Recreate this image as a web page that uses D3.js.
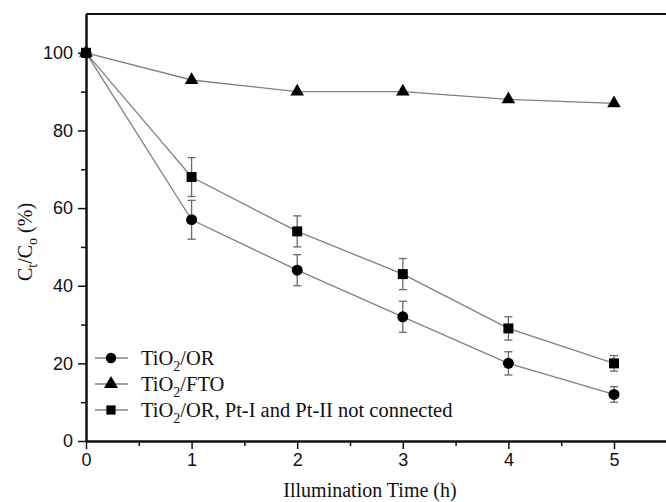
<!DOCTYPE html>
<html>
<head>
<meta charset="utf-8">
<script src="https://cdn.jsdelivr.net/npm/d3@7"></script>
<style>
  body { margin: 0; background: #fff; }
  svg { display: block; }
  .tick text { font-family: "Liberation Sans", Arial, sans-serif; font-size: 18px; fill: #111; }
  .serif { font-family: "Liberation Serif", "Times New Roman", serif; fill: #111; }
</style>
</head>
<body>
<script>
    var width = 666;
    var height = 502;

    // data
    var times = [0, 1, 2, 3, 4, 5];
    var orVals = [100, 57, 44, 32, 20, 12];
    var orErr = [0, 5, 4, 4, 3, 2];
    var ftoVals = [100, 93, 90, 90, 88, 87];
    var ncVals = [100, 68, 54, 43, 29, 20];
    var ncErr = [0, 5, 4, 4, 3, 2];

    var xTicks = [0, 1, 2, 3, 4, 5];
    var xMinor = [0.5, 1.5, 2.5, 3.5, 4.5];
    var yTicks = [0, 20, 40, 60, 80, 100];
    var yMinor = [10, 30, 50, 70, 90];

    var svg = d3.select("body")
        .append("svg")
        .attr("width", width)
        .attr("height", height);

    var x = d3.scaleLinear().domain([0, 5.5]).range([86, 86 + 5.5 * 105.6]);
    var y = d3.scaleLinear().domain([0, 110]).range([441, 14]);

    //top border (right side falls off the picture)
    svg.append("line")
        .attr("x1", x(0)).attr("x2", width)
        .attr("y1", y(110)).attr("y2", y(110))
        .attr("stroke", "#111").attr("stroke-width", 2);

    //axes
    svg.append("g").attr("transform", "translate(0," + y(0) + ")")
        .call(d3.axisBottom(x).tickValues(xTicks).tickFormat(d3.format("d")).tickSize(8).tickSizeOuter(0).tickPadding(4));
    svg.append("g").attr("transform", "translate(0," + y(0) + ")")
        .call(d3.axisBottom(x).tickValues(xMinor).tickFormat("").tickSize(5).tickSizeOuter(0));

    svg.append("g").attr("transform", "translate(" + x(0) + ",0)")
        .call(d3.axisLeft(y).tickValues(yTicks).tickSize(8).tickSizeOuter(0).tickPadding(5));
    svg.append("g").attr("transform", "translate(" + x(0) + ",0)")
        .call(d3.axisLeft(y).tickValues(yMinor).tickFormat("").tickSize(5).tickSizeOuter(0));

    svg.selectAll(".domain").attr("stroke", "#111").attr("stroke-width", 2);
    svg.selectAll(".tick line").attr("stroke", "#111").attr("stroke-width", 1.5);

    var series = [
        { name: "or", vals: orVals, err: orErr, sym: d3.symbolCircle, size: 95 },
        { name: "fto", vals: ftoVals, err: null, sym: d3.symbolTriangle, size: 80 },
        { name: "nc", vals: ncVals, err: ncErr, sym: d3.symbolSquare, size: 100 }
    ];

    var line = d3.line()
        .x(function(d, i) { return x(times[i]); })
        .y(function(d) { return y(d); });

    var plot = svg.append("g");

    series.forEach(function(s) {
        plot.append("path")
            .datum(s.vals)
            .attr("d", line)
            .attr("fill", "none")
            .attr("stroke", "#808080")
            .attr("stroke-width", 1.3);

        if (s.err) {
            var eb = plot.append("g").selectAll("g")
                .data(s.vals.map(function(v, i) { return { t: times[i], v: v, e: s.err[i] }; })
                    .filter(function(d) { return d.e > 0; }))
                .enter().append("g")
                .attr("stroke", "#6a6a6a").attr("stroke-width", 1.3);
            eb.append("line")
                .attr("x1", function(d) { return x(d.t); }).attr("x2", function(d) { return x(d.t); })
                .attr("y1", function(d) { return y(d.v + d.e); }).attr("y2", function(d) { return y(d.v - d.e); });
            eb.append("line")
                .attr("x1", function(d) { return x(d.t) - 4; }).attr("x2", function(d) { return x(d.t) + 4; })
                .attr("y1", function(d) { return y(d.v + d.e); }).attr("y2", function(d) { return y(d.v + d.e); });
            eb.append("line")
                .attr("x1", function(d) { return x(d.t) - 4; }).attr("x2", function(d) { return x(d.t) + 4; })
                .attr("y1", function(d) { return y(d.v - d.e); }).attr("y2", function(d) { return y(d.v - d.e); });
        }
    });

    series.forEach(function(s) {
        plot.append("g").selectAll("path")
            .data(s.vals)
            .enter().append("path")
            .attr("d", d3.symbol().type(s.sym).size(s.size))
            .attr("transform", function(d, i) { return "translate(" + x(times[i]) + "," + y(d) + ")"; })
            .attr("fill", "#000");
    });

    //legend
    var legendRows = [
        { sym: d3.symbolCircle, size: 85, parts: ["TiO", "2", "/OR"] },
        { sym: d3.symbolTriangle, size: 85, parts: ["TiO", "2", "/FTO"] },
        { sym: d3.symbolSquare, size: 85, parts: ["TiO", "2", "/OR, Pt-I and Pt-II not connected"] }
    ];

    var legend = svg.append("g").selectAll("g")
        .data(legendRows)
        .enter().append("g")
        .attr("transform", function(d, i) { return "translate(0," + (358 + i * 26) + ")"; });

    legend.append("line")
        .attr("x1", 95).attr("x2", 128).attr("y1", 0).attr("y2", 0)
        .attr("stroke", "#808080").attr("stroke-width", 1.3);
    legend.append("path")
        .attr("d", function(d) { return d3.symbol().type(d.sym).size(d.size)(); })
        .attr("transform", "translate(111,0)")
        .attr("fill", "#000");

    var lt = legend.append("text")
        .attr("class", "serif")
        .attr("x", 141).attr("y", 7)
        .style("font-size", "20.5px");
    lt.append("tspan").text(function(d) { return d.parts[0]; });
    lt.append("tspan").attr("dy", 6).style("font-size", "14px").text(function(d) { return d.parts[1]; });
    lt.append("tspan").attr("dy", -6).text(function(d) { return d.parts[2]; });

    //axis titles
    svg.append("text")
        .attr("class", "serif")
        .attr("x", 370).attr("y", 497)
        .attr("text-anchor", "middle")
        .style("font-size", "20px")
        .text("Illumination Time (h)");

    var yl = svg.append("text")
        .attr("class", "serif")
        .attr("transform", "translate(32,242) rotate(-90)")
        .attr("text-anchor", "middle")
        .style("font-size", "20px");
    yl.append("tspan").text("C");
    yl.append("tspan").attr("dy", 5).style("font-size", "14px").text("t");
    yl.append("tspan").attr("dy", -5).text("/C");
    yl.append("tspan").attr("dy", 5).style("font-size", "14px").text("o");
    yl.append("tspan").attr("dy", -5).text(" (%)");
</script>
</body>
</html>
